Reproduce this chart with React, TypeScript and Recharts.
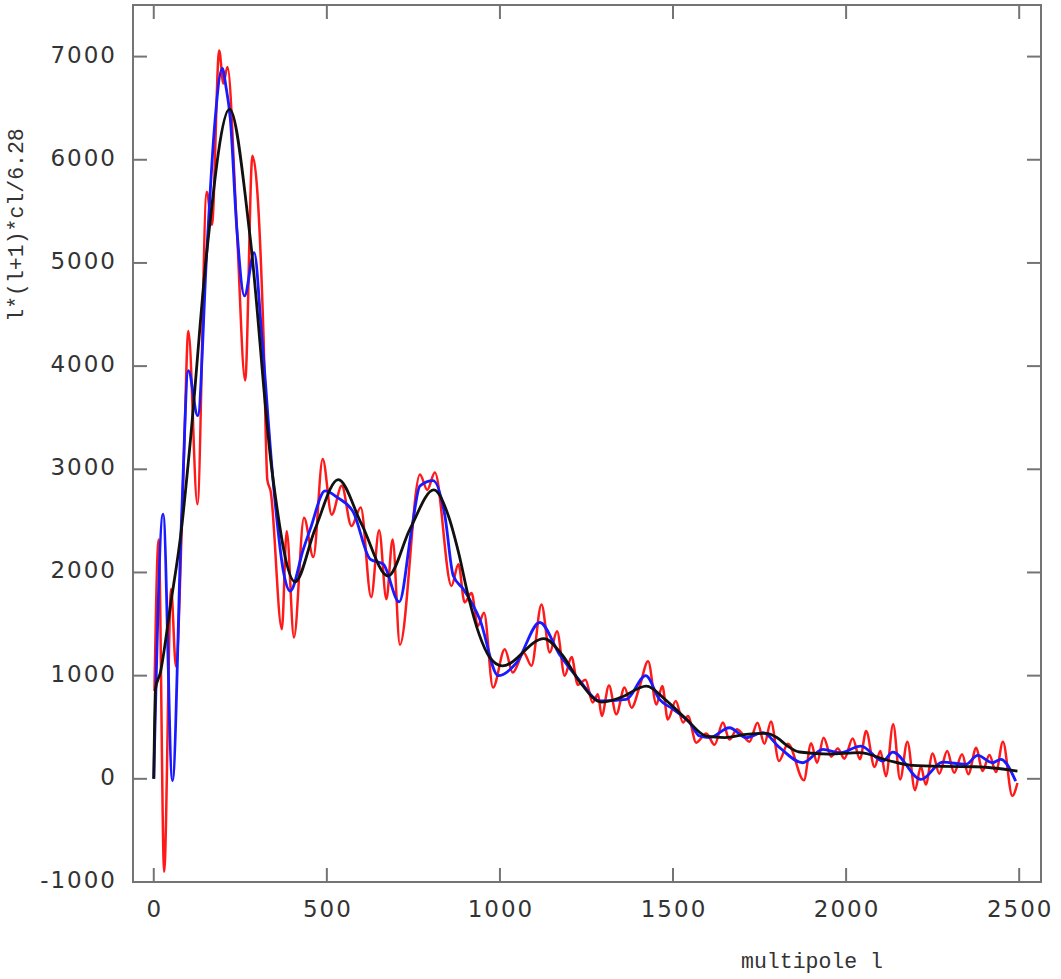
import { LineChart, Line, XAxis, YAxis, ReferenceArea } from "recharts";

// multipole l and l(l+1)cl/2pi
const redL = [2, 14, 30, 50, 64, 86, 100, 126, 153, 168, 189, 201, 213, 240, 264, 285, 317, 328, 338, 370, 384, 405, 434, 461, 488, 514, 543, 571, 598, 628, 651, 672, 690, 711, 769, 790, 812, 860, 880, 898, 918, 936, 954, 980, 1014, 1037, 1069, 1091, 1120, 1144, 1165, 1187, 1207, 1225, 1247, 1268, 1283, 1294, 1315, 1336, 1360, 1380, 1404, 1428, 1452, 1469, 1485, 1508, 1529, 1543, 1567, 1596, 1620, 1644, 1663, 1685, 1721, 1744, 1764, 1783, 1806, 1832, 1878, 1899, 1916, 1935, 1957, 1976, 1995, 2019, 2040, 2058, 2082, 2099, 2115, 2136, 2156, 2177, 2199, 2216, 2230, 2250, 2269, 2292, 2312, 2335, 2353, 2376, 2394, 2414, 2433, 2453, 2480, 2495];
const redV = [850, 2320, -900, 1840, 1090, 3000, 4340, 2660, 5690, 5370, 7060, 6740, 6900, 5330, 3860, 6040, 4290, 2900, 2780, 1450, 2400, 1370, 2530, 2150, 3100, 2560, 2840, 2450, 2630, 1760, 2410, 1740, 2320, 1300, 2950, 2800, 2970, 1870, 2080, 1710, 1800, 1480, 1610, 885, 1255, 1030, 1220, 1095, 1690, 1225, 1430, 1000, 1180, 910, 960, 740, 820, 610, 905, 625, 885, 690, 900, 1140, 720, 900, 575, 755, 545, 610, 350, 440, 330, 545, 380, 480, 360, 544, 340, 555, 172, 340, -15, 345, 156, 398, 215, 295, 195, 390, 190, 463, 115, 269, 25, 528, -6, 360, -110, 120, -55, 245, 50, 269, 59, 237, 45, 301, 75, 230, 65, 360, -165, -40];

const blueL = [0, 27, 54, 80, 100, 127, 153, 175, 198, 208, 221, 240, 262, 290, 312, 346, 375, 394, 432, 452, 495, 529, 577, 625, 663, 709, 745, 769, 807, 841, 865, 894, 942, 995, 1048, 1115, 1173, 1231, 1288, 1365, 1421, 1461, 1500, 1548, 1577, 1606, 1663, 1711, 1760, 1808, 1875, 1933, 1981, 2043, 2106, 2135, 2216, 2279, 2346, 2380, 2423, 2447, 2490];
const blueV = [0, 2565, -20, 2500, 3955, 3520, 5100, 6300, 6885, 6720, 6400, 5330, 4680, 5100, 4290, 2840, 2000, 1820, 2225, 2420, 2790, 2730, 2580, 2130, 2080, 1715, 2420, 2840, 2890, 2550, 1970, 1840, 1545, 1000, 1125, 1515, 1200, 950, 755, 770, 1000, 770, 675, 545, 415, 400, 495, 400, 447, 302, 156, 285, 253, 317, 172, 259, -6, 162, 140, 227, 156, 188, -22];

const blackL = [0, 5, 19, 48, 81, 105, 153, 219, 278, 341, 408, 466, 533, 600, 677, 740, 809, 850, 880, 910, 940, 970, 1007, 1127, 1180, 1231, 1293, 1350, 1423, 1480, 1539, 1596, 1650, 1711, 1769, 1800, 1830, 1865, 1950, 2038, 2120, 2191, 2280, 2375, 2495];
const blackV = [0, 870, 1030, 1675, 2450, 3250, 5100, 6490, 5260, 3000, 1910, 2420, 2900, 2470, 1966, 2420, 2800, 2560, 2200, 1750, 1400, 1180, 1095, 1359, 1200, 938, 744, 790, 899, 760, 576, 414, 400, 431, 440, 400, 320, 260, 240, 253, 180, 130, 120, 117, 75];

const xTicks = [0, 500, 1000, 1500, 2000, 2500];
const yTicks = [-1000, 0, 1000, 2000, 3000, 4000, 5000, 6000, 7000];

const toRows = (ls: number[], vs: number[]) => ls.map((l, i) => ({ l, v: vs[i] }));
const red = toRows(redL, redV);
const blue = toRows(blueL, blueV);
const black = toRows(blackL, blackV);

// plot box in page pixels
const PL = 133;
const PR = 1041;
const PT = 5;
const PB = 882;
const GREY = "#747474";
const tickFont = { fontFamily: "DejaVu Sans", fontSize: 23, letterSpacing: 2, fill: "#333" };

function YTick(props: any) {
  const { y, payload } = props;
  return (
    <g>
      <line x1={PL} x2={PL + 14} y1={y} y2={y} stroke={GREY} strokeWidth={2} />
      <line x1={PR - 14} x2={PR} y1={y} y2={y} stroke={GREY} strokeWidth={2} />
      <text x={117} y={y + 6} textAnchor="end" {...tickFont}>{payload.value}</text>
    </g>
  );
}

function XTick(props: any) {
  const { x, payload } = props;
  return (
    <g>
      <line x1={x} x2={x} y1={PB} y2={PB - 14} stroke={GREY} strokeWidth={2} />
      <line x1={x} x2={x} y1={PT} y2={PT + 14} stroke={GREY} strokeWidth={2} />
      <text x={x + 1} y={PB + 35} textAnchor="middle" {...tickFont}>{payload.value}</text>
    </g>
  );
}

const mono = { fontFamily: "Liberation Mono", fontSize: 21.5, color: "#333", whiteSpace: "nowrap" as const, position: "absolute" as const };

export default function App() {
  return (
    <div style={{ position: "absolute", left: 0, top: 0, width: 1061, height: 979, background: "#fff" }}>
      <LineChart width={1061} height={979} margin={{ top: PT, right: 1061 - PR, bottom: 57, left: 73 }}>
        <XAxis type="number" dataKey="l" domain={[-60, 2563]} ticks={xTicks} allowDataOverflow height={40} axisLine={false} tickLine={false} tick={<XTick />} interval={0} />
        <YAxis type="number" domain={[-1000, 7500]} ticks={yTicks} allowDataOverflow width={60} axisLine={false} tickLine={false} tick={<YTick />} interval={0} />
        <ReferenceArea x1={-60} x2={2563} y1={-1000} y2={7500} fill="none" stroke={GREY} strokeWidth={2} ifOverflow="visible" />
        <Line data={red} dataKey="v" type="monotone" stroke="#ff1a1a" strokeWidth={2.5} dot={false} isAnimationActive={false} />
        <Line data={blue} dataKey="v" type="monotone" stroke="#1a1aff" strokeWidth={2.8} dot={false} isAnimationActive={false} />
        <Line data={black} dataKey="v" type="monotone" stroke="#111" strokeWidth={2.8} dot={false} isAnimationActive={false} />
      </LineChart>
      <div style={{ ...mono, left: 812, top: 962, transform: "translate(-50%, -50%)" }}>multipole l</div>
      <div style={{ ...mono, left: 17, top: 225, transform: "translate(-50%, -50%) rotate(-90deg)" }}>l*(l+1)*cl/6.28</div>
    </div>
  );
}
